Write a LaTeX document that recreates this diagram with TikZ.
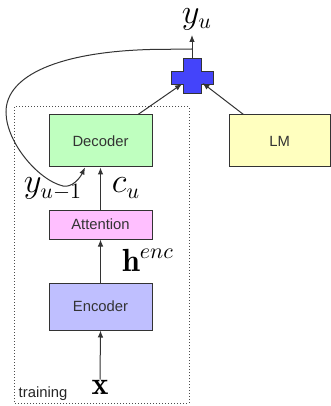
\documentclass[tikz,border=0pt]{standalone}
\usepackage{amsmath,amssymb}
\usepackage{fontspec}
\newfontfamily\helv{Liberation Sans}
\usepackage{tikz}
\usetikzlibrary{arrows.meta, calc, positioning}
\tikzstyle{arrow} = [line width=0.5pt, black!80, -{Latex[length=3.5pt,width=2.8pt]}]
\tikzstyle{block} = [draw=black!80, line width=0.5pt, font=\helv\fontsize{7.4}{9}\selectfont, text=black!80, minimum width=51.5pt, inner sep=0pt]
\tikzstyle{mathlabel} = [font=\fontsize{16}{19}\selectfont, inner sep=0pt]

\begin{document}
\begin{tikzpicture}[x=0.5pt, y=-0.5pt]
% Box colours
\definecolor{deccolor}{RGB}{191,255,191}
\definecolor{lmcolor}{RGB}{255,255,191}
\definecolor{attcolor}{RGB}{255,191,255}
\definecolor{enccolor}{RGB}{191,191,255}
\definecolor{pluscolor}{RGB}{68,68,250}

\useasboundingbox (0,0) rectangle (331,406);

% Training region
\draw[black!70, densely dotted, line width=0.5pt] (14,107) rectangle (189,403);
\node[font=\helv\fontsize{7.4}{9}\selectfont, text=black!85, inner sep=0pt] (train) at (43,394) {training};

% Blocks
\node[block, fill=deccolor, minimum height=26pt] (dec) at (100.5,141) {Decoder};
\node[block, fill=lmcolor, minimum width=50.75pt, minimum height=26pt] (lm) at (279.75,141) {LM};
\node[block, fill=attcolor, minimum height=14.5pt] (att) at (100.5,224.5) {Attention};
\node[block, fill=enccolor, minimum height=23.5pt] (enc) at (100.5,306.5) {Encoder};

% Combination (plus sign)
\fill[pluscolor, draw=black!80, line width=0.5pt]
  (183,59) -- (201.5,59) -- (201.5,72) -- (213,72) -- (213,85) -- (201.5,85)
  -- (201.5,94) -- (183,94) -- (183,85) -- (171,85) -- (171,72) -- (183,72) -- cycle;
\coordinate (plustop) at (192,59);
\coordinate (plusl) at (182,84);
\coordinate (plusr) at (202.5,83);
\coordinate (join) at (192,49);
\coordinate (yutip) at (192,35);
\coordinate (fb) at (85,167.5);

% Labels
\node[mathlabel] (yu) at (197,19) {$y_u$};
\node[mathlabel] (yprev) at (53,189) {$y_{u-1}$};
\node[mathlabel] (cu) at (126,188) {$c_u$};
\node[mathlabel] (henc) at (148,260) {$\mathbf{h}^{enc}$};
\node[mathlabel] (xin) at (100,387) {$\mathbf{x}$};

% Arrows
\draw[arrow] (xin.north) -- (enc.south);
\draw[arrow] (enc.north) -- (att.south);
\draw[arrow] (att.north) -- (dec.south);
\draw[arrow] ($(dec.north)+(37.5,0)$) -- (plusl);
\draw[arrow] ($(lm.north west)+(15,0)$) -- (plusr);
\draw[arrow] (plustop) -- (yutip);

% Feedback of previous output
\draw[arrow] (join) -- (150,49.5) .. controls (60,52) and (6,75) .. (6,112)
  .. controls (6,142) and (38,180) .. (63,186) .. controls (72,188) and (80,178) .. (fb);

\end{tikzpicture}
\end{document}
